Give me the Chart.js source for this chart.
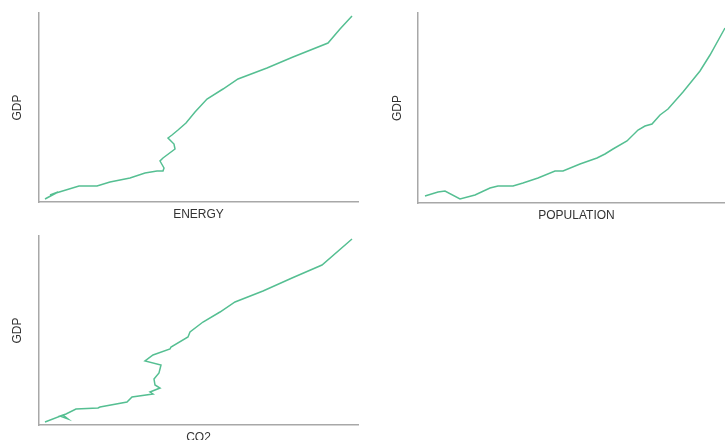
<!DOCTYPE html>
<html>
<head>
<meta charset="utf-8">
<script src="https://cdn.jsdelivr.net/npm/chart.js@4/dist/chart.umd.min.js"></script>
<style>
  html, body { margin: 0; padding: 0; background: #fff; }
  body { width: 725px; height: 440px; overflow: hidden; position: relative; }
  .panel { position: absolute; }
</style>
</head>
<body>
<div class="panel" style="left:0;top:0;width:362px;height:230px"><canvas id="energyChart"></canvas></div>
<div class="panel" style="left:380px;top:0;width:359px;height:230px"><canvas id="popChart"></canvas></div>
<div class="panel" style="left:0;top:223px;width:362px;height:230px"><canvas id="co2Chart"></canvas></div>
<script>
// values (no ticks shown, so arbitrary units)
const energyX   = [6, 19, 11, 17, 40, 58, 71, 91, 106, 118, 124, 125, 121, 124, 136, 135, 129, 133, 139, 147, 156, 168, 184, 199, 228, 254, 289, 301, 313];
const energyGdp = [3, 10, 7, 9, 16, 16, 20, 24, 29, 31, 31, 34, 41, 44, 53, 58, 64, 67, 72, 79, 90, 103, 113, 123, 134, 145, 159, 173, 186];

const popX   = [7, 20, 27, 42, 57, 72, 80, 95, 105, 120, 137, 145, 162, 179, 187, 195, 209, 220, 227, 234, 242, 250, 265, 282, 292, 307];
const popGdp = [7, 11, 12, 4, 8, 15, 17, 17, 20, 25, 32, 32, 39, 45, 49, 54, 62, 73, 77, 79, 88, 94, 111, 132, 148, 175];

const co2X   = [6, 24, 29, 21, 27, 37, 59, 61, 88, 93, 114, 111, 121, 116, 115, 120, 122, 106, 114, 131, 132, 149, 151, 164, 181, 196, 224, 253, 283, 313];
const co2Gdp = [3, 10, 6, 9, 11, 16, 17, 18, 23, 28, 31, 33, 37, 40, 46, 52, 60, 64, 70, 76, 78, 88, 93, 103, 113, 123, 134, 147, 160, 186];

const LINE = "#55bf92";
const AXIS = "#a8a8a8";
const FONT = { family: "'Liberation Sans', Arial, sans-serif", size: 12 };

function pairs(xs, ys) {
  return xs.map((x, i) => ({ x, y: ys[i] }));
}

function makeChart(id, xs, ys, xLabel, opt) {
  const ctx = document.getElementById(id);
  return new Chart(ctx, {
    type: "scatter",
    data: {
      datasets: [{
        data: pairs(xs, ys),
        showLine: true,
        borderColor: LINE,
        borderWidth: 1.5,
        pointRadius: 0,
        pointHoverRadius: 0,
        tension: 0,
        clip: false
      }]
    },
    options: {
      responsive: true,
      maintainAspectRatio: false,
      animation: false,
      events: [],
      layout: { padding: { top: 13, right: 4, left: 0, bottom: 0 } },
      plugins: { legend: { display: false }, tooltip: { enabled: false } },
      scales: {
        x: {
          type: "linear",
          min: 0,
          max: opt.xMax,
          grid: { display: false, drawTicks: false },
          border: { display: true, color: AXIS, width: 1.5 },
          ticks: { display: false },
          title: { display: true, text: xLabel, color: "#333", font: FONT, padding: opt.xPad }
        },
        y: {
          min: 0,
          max: opt.yMax,
          grid: { display: false, drawTicks: false },
          border: { display: true, color: AXIS, width: 1.5 },
          ticks: { display: false },
          title: { display: true, text: "GDP", color: "#333", font: FONT, padding: opt.yPad }
        }
      }
    }
  });
}

makeChart("energyChart", energyX, energyGdp, "ENERGY", {
  xMax: 319, yMax: 189,
  xPad: { top: 5.8, bottom: 7.8 },
  yPad: { top: 10, bottom: 14.6 }
});

makeChart("popChart", popX, popGdp, "POPULATION", {
  xMax: 317, yMax: 190,
  xPad: { top: 5.8, bottom: 6.8 },
  yPad: { top: 10.8, bottom: 12.8 }
});

makeChart("co2Chart", co2X, co2Gdp, "CO2", {
  xMax: 319, yMax: 189,
  xPad: { top: 5, bottom: 8.6 },
  yPad: { top: 10, bottom: 14.6 }
});
</script>
</body>
</html>
